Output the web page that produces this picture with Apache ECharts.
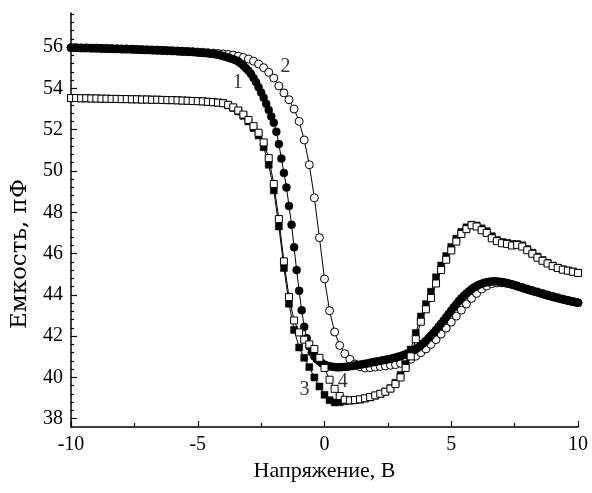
<!DOCTYPE html>
<html>
<head>
<meta charset="utf-8">
<script src="https://cdn.jsdelivr.net/npm/echarts@6/dist/echarts.min.js"></script>
<style>
html,body{margin:0;padding:0;background:#fff;}
#chart{width:592px;height:493px;}
</style>
</head>
<body>
<div id="chart"></div>
<script>
// ---- data ----
const voltageStart = -10;
const fineStep = 0.1;    // curve 1 measured every 0.1 V
const coarseStep = 0.2;  // curves 2-4 measured every 0.2 V

// curve 1 (filled circles), -10..10 V step 0.1
const curve1 = [
  55.97,55.97,55.96,55.96,55.96,55.95,55.95,55.95,55.94,55.94,
  55.94,55.94,55.93,55.93,55.93,55.92,55.92,55.91,55.91,55.91,
  55.90,55.90,55.90,55.89,55.89,55.88,55.88,55.87,55.87,55.86,
  55.86,55.86,55.85,55.85,55.84,55.84,55.83,55.83,55.82,55.82,
  55.81,55.81,55.80,55.79,55.79,55.78,55.77,55.77,55.76,55.75,
  55.74,55.73,55.72,55.71,55.70,55.68,55.67,55.65,55.63,55.60,
  55.56,55.53,55.49,55.45,55.41,55.36,55.30,55.20,55.10,54.98,
  54.85,54.70,54.50,54.30,54.05,53.80,53.55,53.25,52.95,52.64,
  52.33,51.90,51.30,50.60,49.90,49.20,48.30,47.40,46.30,45.20,
  44.20,43.25,42.45,41.90,41.50,41.22,41.02,40.88,40.78,40.69,
  40.62,40.57,40.54,40.52,40.50,40.49,40.49,40.50,40.51,40.52,
  40.54,40.56,40.58,40.60,40.62,40.64,40.66,40.68,40.71,40.73,
  40.76,40.78,40.80,40.83,40.85,40.88,40.90,40.93,40.96,41.00,
  41.03,41.07,41.12,41.17,41.23,41.30,41.37,41.45,41.55,41.65,
  41.77,41.90,42.03,42.16,42.30,42.45,42.60,42.76,42.92,43.08,
  43.24,43.40,43.55,43.70,43.83,43.96,44.07,44.17,44.27,44.36,
  44.43,44.49,44.54,44.58,44.61,44.63,44.65,44.66,44.65,44.64,
  44.62,44.60,44.57,44.54,44.50,44.46,44.42,44.38,44.34,44.30,
  44.26,44.22,44.19,44.15,44.12,44.08,44.04,44.01,43.97,43.94,
  43.90,43.87,43.84,43.81,43.78,43.75,43.72,43.69,43.66,43.64,
  43.62
];

// curve 2 (open circles), -10..10 V step 0.2
const curve2 = [
  55.97,55.97,55.96,55.96,55.95,
  55.95,55.94,55.93,55.93,55.92,
  55.91,55.91,55.90,55.89,55.88,
  55.87,55.86,55.85,55.84,55.83,
  55.82,55.81,55.80,55.79,55.78,
  55.76,55.75,55.73,55.71,55.69,
  55.67,55.64,55.61,55.56,55.50,
  55.42,55.32,55.18,55.00,54.78,
  54.50,54.12,53.78,53.45,53.00,
  52.40,51.50,50.30,48.70,46.77,
  44.77,43.23,42.20,41.55,41.15,
  40.88,40.65,40.52,40.46,40.47,
  40.50,40.53,40.56,40.59,40.62,
  40.68,40.76,40.88,41.03,41.20,
  41.38,41.60,41.83,42.10,42.39,
  42.68,42.97,43.26,43.56,43.83,
  44.07,44.28,44.43,44.54,44.58,
  44.58,44.55,44.50,44.43,44.36,
  44.28,44.21,44.14,44.07,44.00,
  43.93,43.86,43.80,43.74,43.68,
  43.62
];

// curve 3 (filled squares), -10..10 V step 0.2
const curve3 = [
  53.53,53.53,53.52,53.52,53.51,
  53.51,53.50,53.50,53.49,53.49,
  53.48,53.48,53.47,53.47,53.46,
  53.46,53.45,53.45,53.44,53.43,
  53.43,53.42,53.41,53.40,53.39,
  53.38,53.37,53.35,53.33,53.31,
  53.28,53.18,53.05,52.88,52.67,
  52.40,52.08,51.72,51.15,50.30,
  49.06,47.31,45.30,43.57,42.30,
  41.45,40.95,40.50,40.00,39.56,
  39.16,38.90,38.79,38.80,38.85,
  38.88,38.90,38.93,38.98,39.04,
  39.12,39.20,39.31,39.48,39.74,
  40.12,40.65,41.35,42.15,42.95,
  43.55,44.15,44.85,45.42,45.88,
  46.32,46.72,47.05,47.27,47.40,
  47.36,47.22,47.08,46.84,46.66,
  46.56,46.52,46.46,46.46,46.40,
  46.22,46.04,45.85,45.69,45.55,
  45.42,45.32,45.24,45.18,45.13,
  45.07
];

// curve 4 (open squares), -10..10 V step 0.2
const curve4 = [
  53.53,53.53,53.52,53.52,53.51,
  53.51,53.50,53.50,53.49,53.49,
  53.48,53.48,53.47,53.47,53.46,
  53.46,53.45,53.45,53.44,53.43,
  53.43,53.42,53.41,53.40,53.39,
  53.38,53.37,53.35,53.33,53.31,
  53.28,53.20,53.08,52.93,52.73,
  52.47,52.17,51.85,51.38,50.62,
  49.37,47.67,45.62,43.89,42.76,
  42.18,41.83,41.60,41.38,40.95,
  40.46,39.89,39.45,39.10,38.92,
  38.89,38.91,38.94,38.99,39.05,
  39.13,39.21,39.31,39.46,39.68,
  40.00,40.46,41.02,41.85,42.70,
  43.30,43.85,44.55,45.20,45.70,
  46.15,46.58,46.95,47.18,47.37,
  47.31,47.13,47.00,46.74,46.60,
  46.50,46.47,46.39,46.42,46.34,
  46.16,45.99,45.80,45.65,45.52,
  45.39,45.30,45.22,45.17,45.12,
  45.06
];

// curve number annotations (data coordinates)
const annotText = ['1', '2', '3', '4'];
const annotX = [-3.42, -1.54, -0.79, 0.72];
const annotY = [54.26, 55.03, 39.4, 39.8];

// axes
const xTicks = [-10, -5, 0, 5, 10];
const xMinorTicks = [-7.5, -2.5, 2.5, 7.5];
const yTicks = [38, 40, 42, 44, 46, 48, 50, 52, 54, 56];
const yMinorTicks = [38.4,38.8,39.2,39.6,40.4,40.8,41.2,41.6,42.4,42.8,43.2,43.6,
  44.4,44.8,45.2,45.6,46.4,46.8,47.2,47.6,48.4,48.8,49.2,49.6,50.4,50.8,51.2,51.6,
  52.4,52.8,53.2,53.6,54.4,54.8,55.2,55.6,56.4,56.8,57.2,57.6];
const xName = 'Напряжение, В';
const yName = 'Емкость, пФ';

// ---- build ----
function pairs(vals, step) {
  return vals.map((v, i) => [+(voltageStart + i * step).toFixed(2), v]);
}

const FONT = '"Liberation Serif", "Times New Roman", serif';
const chart = echarts.init(document.getElementById('chart'), null, {renderer: 'canvas'});

const lineStyle = {color: '#000', width: 1};
const X_MIN = -10, X_MAX = 10, Y_MIN = 37.6, Y_MAX = 57.65;
chart.setOption({
  animation: false,
  backgroundColor: '#fff',
  grid: {left: 71, right: 14, top: 13, bottom: 66},
  graphic: [{
    type: 'text', x: 20, y: 254, rotation: Math.PI / 2,
    style: {text: yName, font: '23px "DejaVu Serif", serif', fill: '#000',
      align: 'center', verticalAlign: 'middle'}
  }],
  xAxis: [{
    type: 'value', min: X_MIN, max: X_MAX, position: 'bottom',
    name: xName, nameLocation: 'middle', nameGap: 33,
    nameTextStyle: {fontFamily: FONT, fontSize: 22, color: '#000'},
    axisLine: {onZero: false, lineStyle: {color: '#000', width: 1.5}},
    axisTick: {inside: true, length: 6, customValues: xTicks, lineStyle: {color: '#000', width: 1.2}},
    axisLabel: {fontFamily: FONT, fontSize: 20, color: '#000', margin: 8, customValues: xTicks},
    splitLine: {show: false}
  }, {
    type: 'value', min: X_MIN, max: X_MAX, position: 'bottom', offset: 0,
    axisLine: {show: false, onZero: false},
    axisTick: {show: true, inside: true, length: 4, customValues: xMinorTicks, lineStyle: {color: '#000', width: 1.2}},
    axisLabel: {show: false},
    splitLine: {show: false}
  }],
  yAxis: [{
    type: 'value', min: Y_MIN, max: Y_MAX, position: 'left',
    axisLine: {show: true, onZero: false, lineStyle: {color: '#000', width: 1.5}},
    axisTick: {inside: true, length: 6, customValues: yTicks, lineStyle: {color: '#000', width: 1.2}},
    axisLabel: {fontFamily: FONT, fontSize: 20, color: '#000', margin: 8, customValues: yTicks},
    splitLine: {show: false}
  }, {
    type: 'value', min: Y_MIN, max: Y_MAX, position: 'left', offset: 0,
    axisLine: {show: false, onZero: false},
    axisTick: {show: true, inside: true, length: 3, customValues: yMinorTicks, lineStyle: {color: '#000', width: 1.2}},
    axisLabel: {show: false},
    splitLine: {show: false}
  }],
  series: [
    {
      type: 'line', data: pairs(curve2, coarseStep), symbol: 'circle', symbolSize: 8,
      showAllSymbol: true, lineStyle: lineStyle,
      itemStyle: {color: '#fff', borderColor: '#000', borderWidth: 1}, z: 2
    },
    {
      type: 'line', data: pairs(curve1, fineStep), symbol: 'circle', symbolSize: 8,
      showAllSymbol: true, lineStyle: lineStyle,
      itemStyle: {color: '#000', borderColor: '#000', borderWidth: 0.5}, z: 3
    },
    {
      type: 'line', data: pairs(curve3, coarseStep), symbol: 'rect', symbolSize: 7,
      showAllSymbol: true, lineStyle: lineStyle,
      itemStyle: {color: '#000', borderColor: '#000', borderWidth: 0.5}, z: 4
    },
    {
      type: 'line', data: pairs(curve4, coarseStep), symbol: 'rect', symbolSize: 7,
      showAllSymbol: true, lineStyle: lineStyle,
      itemStyle: {color: '#fff', borderColor: '#000', borderWidth: 1}, z: 5
    },
    {
      type: 'scatter', symbolSize: 0, z: 10,
      data: annotText.map((t, i) => ({value: [annotX[i], annotY[i]], name: t})),
      label: {show: true, position: 'inside', formatter: p => p.name,
        fontFamily: FONT, fontSize: 20, color: '#000'}
    }
  ]
});
</script>
</body>
</html>
